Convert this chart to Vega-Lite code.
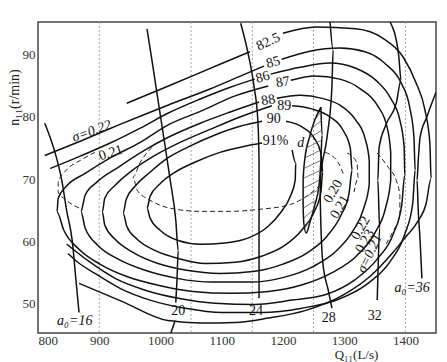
{
  "$schema": "https://vega.github.io/schema/vega-lite/v6.json",
  "width": 398,
  "height": 311,
  "autosize": "none",
  "padding": {"left": 38, "top": 22, "right": 11, "bottom": 29},
  "background": "white",
  "config": {"view": {"stroke": "#444", "strokeWidth": 1.5}, "font": "Liberation Serif"},
  "datasets": {
    "solid": [
      {"c":"91","o":1,"q":1215,"n":74.7},{"c":"91","o":2,"q":1221,"n":72.6},{"c":"91","o":3,"q":1220,"n":69.8},{"c":"91","o":4,"q":1212,"n":67.2},{"c":"91","o":5,"q":1197,"n":64.7},{"c":"91","o":6,"q":1176,"n":62.4},{"c":"91","o":7,"q":1146,"n":60.6},{"c":"91","o":8,"q":1105,"n":59.7},{"c":"91","o":9,"q":1065,"n":59.5},{"c":"91","o":10,"q":1029,"n":60.1},{"c":"91","o":11,"q":999,"n":61.8},{"c":"91","o":12,"q":983,"n":63.7},{"c":"91","o":13,"q":978,"n":65.3},{"c":"91","o":14,"q":983,"n":67.2},{"c":"91","o":15,"q":999,"n":69.2},{"c":"91","o":16,"q":1024,"n":71.1},{"c":"91","o":17,"q":1056,"n":72.7},{"c":"91","o":18,"q":1097,"n":74.3},{"c":"91","o":19,"q":1138,"n":75.3},{"c":"91","o":20,"q":1166,"n":75.8},
      {"c":"90","o":1,"q":1205,"n":79.3},{"c":"90","o":2,"q":1231,"n":78.4},{"c":"90","o":3,"q":1251,"n":76.6},{"c":"90","o":4,"q":1262,"n":74.2},{"c":"90","o":5,"q":1265,"n":71.1},{"c":"90","o":6,"q":1262,"n":67.9},{"c":"90","o":7,"q":1251,"n":64.7},{"c":"90","o":8,"q":1231,"n":61.8},{"c":"90","o":9,"q":1203,"n":59.3},{"c":"90","o":10,"q":1166,"n":57.6},{"c":"90","o":11,"q":1122,"n":56.6},{"c":"90","o":12,"q":1073,"n":56.4},{"c":"90","o":13,"q":1029,"n":57.2},{"c":"90","o":14,"q":991,"n":58.5},{"c":"90","o":15,"q":962,"n":60.3},{"c":"90","o":16,"q":945,"n":62.4},{"c":"90","o":17,"q":939,"n":64.5},{"c":"90","o":18,"q":944,"n":66.7},{"c":"90","o":19,"q":960,"n":69.0},{"c":"90","o":20,"q":983,"n":71.1},{"c":"90","o":21,"q":1012,"n":73.4},{"c":"90","o":22,"q":1048,"n":75.3},{"c":"90","o":23,"q":1089,"n":77.1},{"c":"90","o":24,"q":1130,"n":78.5},{"c":"90","o":25,"q":1166,"n":79.3},
      {"c":"89","o":1,"q":1215,"n":81.8},{"c":"89","o":2,"q":1247,"n":81.3},{"c":"89","o":3,"q":1277,"n":80.0},{"c":"89","o":4,"q":1298,"n":77.9},{"c":"89","o":5,"q":1310,"n":75.0},{"c":"89","o":6,"q":1313,"n":71.4},{"c":"89","o":7,"q":1308,"n":67.7},{"c":"89","o":8,"q":1295,"n":64.2},{"c":"89","o":9,"q":1272,"n":60.8},{"c":"89","o":10,"q":1241,"n":58.2},{"c":"89","o":11,"q":1200,"n":56.3},{"c":"89","o":12,"q":1151,"n":55.1},{"c":"89","o":13,"q":1097,"n":54.8},{"c":"89","o":14,"q":1043,"n":55.3},{"c":"89","o":15,"q":996,"n":56.4},{"c":"89","o":16,"q":955,"n":58.2},{"c":"89","o":17,"q":926,"n":60.3},{"c":"89","o":18,"q":909,"n":62.6},{"c":"89","o":19,"q":905,"n":64.7},{"c":"89","o":20,"q":909,"n":66.9},{"c":"89","o":21,"q":926,"n":69.0},{"c":"89","o":22,"q":954,"n":71.4},{"c":"89","o":23,"q":991,"n":73.8},{"c":"89","o":24,"q":1032,"n":75.9},{"c":"89","o":25,"q":1081,"n":78.0},{"c":"89","o":26,"q":1130,"n":80.0},{"c":"89","o":27,"q":1182,"n":81.8},
      {"c":"88","o":1,"q":1190,"n":83.0},{"c":"88","o":2,"q":1228,"n":83.5},{"c":"88","o":3,"q":1264,"n":83.0},{"c":"88","o":4,"q":1295,"n":81.8},{"c":"88","o":5,"q":1319,"n":79.5},{"c":"88","o":6,"q":1334,"n":76.6},{"c":"88","o":7,"q":1341,"n":73.0},{"c":"88","o":8,"q":1341,"n":69.2},{"c":"88","o":9,"q":1332,"n":65.3},{"c":"88","o":10,"q":1314,"n":61.6},{"c":"88","o":11,"q":1287,"n":58.4},{"c":"88","o":12,"q":1249,"n":55.9},{"c":"88","o":13,"q":1203,"n":54.2},{"c":"88","o":14,"q":1146,"n":53.4},{"c":"88","o":15,"q":1084,"n":53.4},{"c":"88","o":16,"q":1027,"n":54.0},{"c":"88","o":17,"q":975,"n":55.3},{"c":"88","o":18,"q":931,"n":57.1},{"c":"88","o":19,"q":898,"n":59.3},{"c":"88","o":20,"q":877,"n":62.1},{"c":"88","o":21,"q":870,"n":64.8},{"c":"88","o":22,"q":877,"n":67.4},{"c":"88","o":23,"q":896,"n":69.5},{"c":"88","o":24,"q":931,"n":71.9},{"c":"88","o":25,"q":975,"n":74.7},{"c":"88","o":26,"q":1012,"n":76.7},{"c":"88","o":27,"q":1065,"n":79.0},{"c":"88","o":28,"q":1114,"n":80.8},{"c":"88","o":29,"q":1161,"n":82.4},
      {"c":"87","o":1,"q":1213,"n":85.9},{"c":"87","o":2,"q":1252,"n":86.6},{"c":"87","o":3,"q":1293,"n":86.1},{"c":"87","o":4,"q":1327,"n":84.5},{"c":"87","o":5,"q":1354,"n":81.9},{"c":"87","o":6,"q":1370,"n":78.4},{"c":"87","o":7,"q":1376,"n":74.3},{"c":"87","o":8,"q":1376,"n":69.8},{"c":"87","o":9,"q":1368,"n":65.5},{"c":"87","o":10,"q":1350,"n":61.3},{"c":"87","o":11,"q":1321,"n":57.7},{"c":"87","o":12,"q":1282,"n":55.0},{"c":"87","o":13,"q":1233,"n":53.0},{"c":"87","o":14,"q":1176,"n":51.9},{"c":"87","o":15,"q":1114,"n":51.6},{"c":"87","o":16,"q":1053,"n":51.9},{"c":"87","o":17,"q":996,"n":52.9},{"c":"87","o":18,"q":945,"n":54.3},{"c":"87","o":19,"q":901,"n":56.3},{"c":"87","o":20,"q":867,"n":58.7},{"c":"87","o":21,"q":842,"n":61.8},{"c":"87","o":22,"q":831,"n":64.7},{"c":"87","o":23,"q":833,"n":66.9},{"c":"87","o":24,"q":846,"n":68.8},{"c":"87","o":25,"q":877,"n":70.9},{"c":"87","o":26,"q":918,"n":73.4},{"c":"87","o":27,"q":967,"n":75.9},{"c":"87","o":28,"q":1012,"n":78.7},{"c":"87","o":29,"q":1065,"n":80.9},{"c":"87","o":30,"q":1122,"n":83.4},{"c":"87","o":31,"q":1176,"n":85.0},
      {"c":"86a","o":1,"q":820,"n":71.7},{"c":"86a","o":2,"q":869,"n":73.7},{"c":"86a","o":3,"q":918,"n":75.8},{"c":"86a","o":4,"q":967,"n":78.2},{"c":"86a","o":5,"q":1012,"n":80.6},{"c":"86a","o":6,"q":1065,"n":82.9},{"c":"86a","o":7,"q":1114,"n":84.8},{"c":"86a","o":8,"q":1154,"n":86.1},
      {"c":"86b","o":1,"q":1180,"n":86.9},{"c":"86b","o":2,"q":1228,"n":88.0},{"c":"86b","o":3,"q":1277,"n":88.7},{"c":"86b","o":4,"q":1318,"n":87.9},{"c":"86b","o":5,"q":1352,"n":85.9},{"c":"86b","o":6,"q":1376,"n":83.0},{"c":"86b","o":7,"q":1391,"n":79.5},{"c":"86b","o":8,"q":1398,"n":75.1},{"c":"86b","o":9,"q":1399,"n":70.6},{"c":"86b","o":10,"q":1394,"n":65.8},{"c":"86b","o":11,"q":1380,"n":61.1},{"c":"86b","o":12,"q":1354,"n":57.1},{"c":"86b","o":13,"q":1318,"n":53.8},{"c":"86b","o":14,"q":1270,"n":51.4},{"c":"86b","o":15,"q":1215,"n":50.5},{"c":"86b","o":16,"q":1154,"n":49.8},{"c":"86b","o":17,"q":1089,"n":50.0},{"c":"86b","o":18,"q":1029,"n":50.8},{"c":"86b","o":19,"q":975,"n":52.1},{"c":"86b","o":20,"q":926,"n":54.0},{"c":"86b","o":21,"q":885,"n":56.6},{"c":"86b","o":22,"q":847,"n":59.5},
      {"c":"85a","o":1,"q":811,"n":73.8},{"c":"85a","o":2,"q":869,"n":76.1},{"c":"85a","o":3,"q":934,"n":78.8},{"c":"85a","o":4,"q":1012,"n":81.9},{"c":"85a","o":5,"q":1081,"n":84.5},{"c":"85a","o":6,"q":1138,"n":86.9},{"c":"85a","o":7,"q":1169,"n":88.2},
      {"c":"85b","o":1,"q":1198,"n":89.3},{"c":"85b","o":2,"q":1244,"n":90.6},{"c":"85b","o":3,"q":1293,"n":91.1},{"c":"85b","o":4,"q":1334,"n":90.5},{"c":"85b","o":5,"q":1368,"n":88.5},{"c":"85b","o":6,"q":1393,"n":85.5},{"c":"85b","o":7,"q":1407,"n":81.6},{"c":"85b","o":8,"q":1414,"n":76.7},{"c":"85b","o":9,"q":1416,"n":71.4},{"c":"85b","o":10,"q":1412,"n":66.1},{"c":"85b","o":11,"q":1399,"n":61.1},{"c":"85b","o":12,"q":1375,"n":56.7},{"c":"85b","o":13,"q":1339,"n":53.2},{"c":"85b","o":14,"q":1290,"n":50.6},{"c":"85b","o":15,"q":1231,"n":49.2},{"c":"85b","o":16,"q":1166,"n":48.5},{"c":"85b","o":17,"q":1100,"n":48.5},{"c":"85b","o":18,"q":1040,"n":49.2},{"c":"85b","o":19,"q":983,"n":50.5},{"c":"85b","o":20,"q":934,"n":52.4},{"c":"85b","o":21,"q":893,"n":54.8},{"c":"85b","o":22,"q":865,"n":56.6},{"c":"85b","o":23,"q":849,"n":58.0},
      {"c":"82a","o":1,"q":945,"n":82.2},{"c":"82a","o":2,"q":1016,"n":85.1},{"c":"82a","o":3,"q":1102,"n":88.7},{"c":"82a","o":4,"q":1146,"n":90.5},
      {"c":"82b","o":1,"q":1200,"n":93.5},{"c":"82b","o":2,"q":1254,"n":94.5},{"c":"82b","o":3,"q":1319,"n":94.2},{"c":"82b","o":4,"q":1363,"n":92.7},{"c":"82b","o":5,"q":1396,"n":89.7},{"c":"82b","o":6,"q":1417,"n":85.6},{"c":"82b","o":7,"q":1432,"n":81.1},{"c":"82b","o":8,"q":1440,"n":75.8},{"c":"82b","o":9,"q":1442,"n":70.1},{"c":"82b","o":10,"q":1434,"n":66.1},{"c":"82b","o":11,"q":1419,"n":63.0},{"c":"82b","o":12,"q":1399,"n":60.5},{"c":"82b","o":13,"q":1380,"n":58.2},{"c":"82b","o":14,"q":1342,"n":54.3},{"c":"82b","o":15,"q":1298,"n":51.3},{"c":"82b","o":16,"q":1236,"n":48.8},{"c":"82b","o":17,"q":1176,"n":47.6},{"c":"82b","o":18,"q":1122,"n":46.9},{"c":"82b","o":19,"q":1065,"n":46.8},{"c":"82b","o":20,"q":1012,"n":47.2},{"c":"82b","o":21,"q":937,"n":50.3},{"c":"82b","o":22,"q":867,"n":53.2},
      {"c":"a16","o":1,"q":811,"n":79.0},{"c":"a16","o":2,"q":828,"n":74.2},{"c":"a16","o":3,"q":839,"n":69.7},{"c":"a16","o":4,"q":847,"n":64.8},{"c":"a16","o":5,"q":856,"n":60.0},{"c":"a16","o":6,"q":862,"n":53.7},{"c":"a16","o":7,"q":867,"n":48.5},
      {"c":"a20","o":1,"q":978,"n":94.2},{"c":"a20","o":2,"q":986,"n":89.2},{"c":"a20","o":3,"q":996,"n":82.7},{"c":"a20","o":4,"q":1006,"n":76.3},{"c":"a20","o":5,"q":1016,"n":69.8},{"c":"a20","o":6,"q":1025,"n":63.4},{"c":"a20","o":7,"q":1029,"n":58.5},{"c":"a20","o":8,"q":1027,"n":53.7},{"c":"a20","o":9,"q":1025,"n":50.1},
      {"c":"a20b","o":1,"q":1024,"n":47.2},{"c":"a20b","o":2,"q":1017,"n":45.2},
      {"c":"a24","o":1,"q":1131,"n":95.1},{"c":"a24","o":2,"q":1143,"n":90.3},{"c":"a24","o":3,"q":1153,"n":84.8},{"c":"a24","o":4,"q":1159,"n":79.5},{"c":"a24","o":5,"q":1161,"n":73.0},{"c":"a24","o":6,"q":1161,"n":66.6},{"c":"a24","o":7,"q":1161,"n":58.5},{"c":"a24","o":8,"q":1161,"n":50.8},
      {"c":"a28","o":1,"q":1277,"n":95.3},{"c":"a28","o":2,"q":1282,"n":90.8},{"c":"a28","o":3,"q":1280,"n":84.8},{"c":"a28","o":4,"q":1272,"n":76.7},{"c":"a28","o":5,"q":1261,"n":69.8},{"c":"a28","o":6,"q":1261,"n":66.6},{"c":"a28","o":7,"q":1265,"n":56.7},{"c":"a28","o":8,"q":1274,"n":52.1},{"c":"a28","o":9,"q":1280,"n":49.2},
      {"c":"a32","o":1,"q":1375,"n":95.3},{"c":"a32","o":2,"q":1389,"n":90.0},{"c":"a32","o":3,"q":1393,"n":85.9},{"c":"a32","o":4,"q":1385,"n":82.2},{"c":"a32","o":5,"q":1368,"n":78.7},{"c":"a32","o":6,"q":1357,"n":75.0},{"c":"a32","o":7,"q":1355,"n":69.8},{"c":"a32","o":8,"q":1358,"n":62.1},{"c":"a32","o":9,"q":1355,"n":54.0},{"c":"a32","o":10,"q":1354,"n":50.5},
      {"c":"a36","o":1,"q":1450,"n":84.0},{"c":"a36","o":2,"q":1435,"n":80.0},{"c":"a36","o":3,"q":1424,"n":76.7},{"c":"a36","o":4,"q":1421,"n":73.0},{"c":"a36","o":5,"q":1419,"n":69.8},{"c":"a36","o":6,"q":1421,"n":65.0},{"c":"a36","o":7,"q":1424,"n":60.1},{"c":"a36","o":8,"q":1427,"n":54.0},
      {"c":"hatch","o":1,"q":1262,"n":81.6},{"c":"hatch","o":2,"q":1252,"n":79.5},{"c":"hatch","o":3,"q":1243,"n":76.6},{"c":"hatch","o":4,"q":1236,"n":73.4},{"c":"hatch","o":5,"q":1233,"n":69.8},{"c":"hatch","o":6,"q":1233,"n":65.8},{"c":"hatch","o":7,"q":1234,"n":63.0},{"c":"hatch","o":8,"q":1238,"n":61.3},{"c":"hatch","o":9,"q":1244,"n":63.0},{"c":"hatch","o":10,"q":1252,"n":65.8},{"c":"hatch","o":11,"q":1259,"n":69.0},{"c":"hatch","o":12,"q":1262,"n":73.0},{"c":"hatch","o":13,"q":1264,"n":77.1},{"c":"hatch","o":14,"q":1262,"n":81.6}
    ],
    "dashed": [
      {"c":"s1","o":1,"q":893,"n":74.3},{"c":"s1","o":2,"q":869,"n":73.0},{"c":"s1","o":3,"q":846,"n":71.4},{"c":"s1","o":4,"q":833,"n":69.5},{"c":"s1","o":5,"q":833,"n":67.9},{"c":"s1","o":6,"q":846,"n":66.6},{"c":"s1","o":7,"q":873,"n":65.1},
      {"c":"s2","o":1,"q":986,"n":75.1},{"c":"s2","o":2,"q":967,"n":72.7},{"c":"s2","o":3,"q":955,"n":70.3},{"c":"s2","o":4,"q":962,"n":68.2},{"c":"s2","o":5,"q":983,"n":66.6},{"c":"s2","o":6,"q":1016,"n":65.3},{"c":"s2","o":7,"q":1065,"n":64.8},{"c":"s2","o":8,"q":1114,"n":64.8},{"c":"s2","o":9,"q":1159,"n":65.1},{"c":"s2","o":10,"q":1212,"n":65.9},{"c":"s2","o":11,"q":1244,"n":67.6},{"c":"s2","o":12,"q":1264,"n":69.3},
      {"c":"s3","o":1,"q":1354,"n":74.2},{"c":"s3","o":2,"q":1372,"n":71.9},{"c":"s3","o":3,"q":1385,"n":69.8},{"c":"s3","o":4,"q":1391,"n":67.4},{"c":"s3","o":5,"q":1391,"n":64.2},{"c":"s3","o":6,"q":1380,"n":61.6},{"c":"s3","o":7,"q":1367,"n":59.3},
      {"c":"s4","o":1,"q":1269,"n":74.3},{"c":"s4","o":2,"q":1290,"n":72.7},{"c":"s4","o":3,"q":1300,"n":70.5},
      {"c":"s5","o":1,"q":1305,"n":74.2},{"c":"s5","o":2,"q":1321,"n":72.6},{"c":"s5","o":3,"q":1323,"n":70.1},{"c":"s5","o":4,"q":1316,"n":67.9}
    ],
    "hatchlines": [
      {"q":1247,"n":78.2,"q2":1264,"n2":79.5},{"q":1243,"n":76.6,"q2":1264,"n2":77.9},{"q":1238,"n":75.0,"q2":1264,"n2":76.3},{"q":1236,"n":73.4,"q2":1262,"n2":74.7},{"q":1234,"n":71.7,"q2":1262,"n2":73.0},{"q":1233,"n":70.1,"q2":1261,"n2":71.4},{"q":1233,"n":68.5,"q2":1259,"n2":69.8},{"q":1233,"n":66.9,"q2":1257,"n2":68.2},{"q":1233,"n":65.3,"q2":1254,"n2":66.6},{"q":1234,"n":63.7,"q2":1249,"n2":65.0},{"q":1236,"n":62.1,"q2":1244,"n2":63.4},{"q":1252,"n":79.5,"q2":1262,"n2":80.8}
    ],
    "grid": [{"q":900},{"q":1050},{"q":1150},{"q":1250},{"q":1400}],
    "labels": [
      {"t":"82.5","q":1176,"n":92.1,"a":335},{"t":"85","q":1184,"n":88.8,"a":345},{"t":"86","q":1167,"n":86.4,"a":345},{"t":"87","q":1200,"n":85.6,"a":350},{"t":"88","q":1176,"n":82.7,"a":350},{"t":"89","q":1202,"n":81.8,"a":0},{"t":"90","q":1185,"n":79.7,"a":0},{"t":"91%","q":1188,"n":76.1,"a":0},
      {"t":"0.21","q":919,"n":74.2,"a":342},
      {"t":"20","q":1029,"n":48.7,"a":0},{"t":"24","q":1156,"n":48.7,"a":0},{"t":"28","q":1275,"n":47.6,"a":0},{"t":"32","q":1350,"n":48.0,"a":0},
      {"t":"0.20","q":1282,"n":68.0,"a":300},{"t":"0.21","q":1293,"n":65.5,"a":300},{"t":"0.22","q":1327,"n":62.1,"a":300},{"t":"0.23","q":1334,"n":60.0,"a":300}
    ],
    "italic": [
      {"t":"d","q":1229,"n":75.8,"a":0},
      {"t":"σ=0.22","q":888,"n":77.7,"a":340},
      {"t":"a₀=16","q":860,"n":47.1,"a":0},{"t":"a₀=36","q":1411,"n":52.4,"a":0},
      {"t":"σ=0.21","q":1342,"n":58.0,"a":295}
    ]
  },
  "encoding": {
    "x": {"field": "q", "type": "quantitative", "scale": {"domain": [800, 1450], "nice": false, "zero": false},
      "axis": {"values": [800, 900, 1000, 1100, 1200, 1300, 1400], "format": "d", "labelFlush": true, "grid": false, "ticks": false, "domain": false, "labelPadding": 1, "labelFont": "Liberation Serif", "labelFontSize": 13, "labelColor": "#333", "title": "Q₁₁(L/s)", "titleFont": "Liberation Serif", "titleFontSize": 13, "titleFontWeight": "normal", "titleColor": "#222", "titleX": 318, "titleY": 25, "titleBaseline": "alphabetic", "titleAlign": "center"}},
    "y": {"field": "n", "type": "quantitative", "scale": {"domain": [45.2, 95.3], "nice": false, "zero": false},
      "axis": {"values": [50, 60, 70, 80, 90], "grid": false, "ticks": false, "domain": false, "labelPadding": 3, "labelFont": "Liberation Serif", "labelFontSize": 13, "labelColor": "#333", "title": "n₁₁(r/min)", "titleFont": "Liberation Serif", "titleFontSize": 14, "titleFontWeight": "normal", "titleColor": "#222", "titleX": -24, "titleY": 75, "titleAngle": 270, "titleBaseline": "middle", "titleAlign": "center"}}
  },
  "layer": [
    {"data": {"name": "grid"}, "mark": {"type": "rule", "color": "#aaa", "strokeDash": [2, 2], "strokeWidth": 1}, "encoding": {"y": null}},
    {"data": {"name": "solid"}, "mark": {"type": "line", "color": "#111", "strokeWidth": 1.5, "interpolate": "monotone", "clip": true},
      "encoding": {"detail": {"field": "c"}, "order": {"field": "o", "type": "quantitative"}}},
    {"data": {"name": "dashed"}, "mark": {"type": "line", "color": "#222", "strokeWidth": 1, "strokeDash": [5, 3], "interpolate": "monotone", "clip": true},
      "encoding": {"detail": {"field": "c"}, "order": {"field": "o", "type": "quantitative"}}},
    {"data": {"name": "hatchlines"}, "mark": {"type": "rule", "color": "#555", "strokeWidth": 0.8},
      "encoding": {"x2": {"field": "q2"}, "y2": {"field": "n2"}}},
    {"data": {"name": "labels"}, "mark": {"type": "text", "font": "Liberation Serif", "fontSize": 14, "color": "#111"},
      "encoding": {"text": {"field": "t"}, "angle": {"field": "a", "type": "quantitative", "scale": null}}},
    {"data": {"name": "italic"}, "mark": {"type": "text", "font": "Liberation Serif", "fontSize": 14, "fontStyle": "italic", "color": "#111"},
      "encoding": {"text": {"field": "t"}, "angle": {"field": "a", "type": "quantitative", "scale": null}}}
  ]
}
